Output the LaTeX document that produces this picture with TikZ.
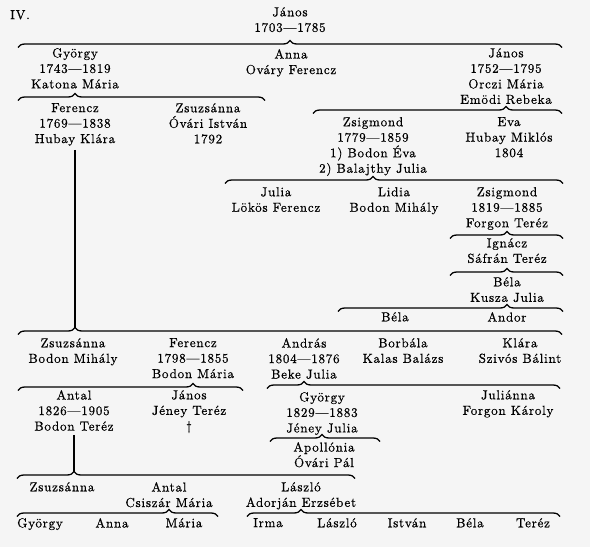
\documentclass[tikz,border=0pt]{standalone}
\usepackage{fontspec}
\setmainfont{lmroman10-regular}[Extension=.otf, LetterSpace=6, FakeBold=0.6]
\usetikzlibrary{decorations.pathreplacing}

\definecolor{paper}{RGB}{245,245,245}

\tikzset{
  person/.style={align=center, anchor=north, inner sep=0pt, yshift=5pt,
    font=\fontsize{13}{15.5}\selectfont},
  famline/.style={line width=1.3pt},
}

% brace below a parent: parent node, y, left x, right x
\newdimen\tipdim
\newcommand{\famBrace}[4]{%
  \pgfextractx{\tipdim}{\pgfpointanchor{#1}{center}}%
  \pgfmathsetmacro{\asp}{(\tipdim-#3)/(#4-#3)}%
  \draw[famline, decorate, decoration={brace, amplitude=7pt, aspect=\asp}]
    (#3,#2+3.5) -- (#4,#2+3.5);
}

\begin{document}
\begin{tikzpicture}[x=1pt, y=-1pt]

    \fill[paper] (0,0) rectangle (590,547);

    \node[person] (iv) at (20,15) {IV.};

    % 1. nemzedék
    \node[person] (janos0) at (290,12) {János\\1703—1785};
    \famBrace{janos0}{44}{18}{562}

    % 2. nemzedék
    \node[person] (gyorgy1) at (75,53) {György\\1743—1819\\Katona Mária};
    \node[person] (anna1) at (291,54) {Anna\\Ováry Ferencz};
    \node[person] (janos1) at (506,53) {János\\1752—1795\\Orczi Mária\\Emödi Rebeka};
    \famBrace{gyorgy1}{97}{18}{265}
    \famBrace{janos1}{110}{313}{562}

    % 3. nemzedék
    \node[person] (ferencz2) at (75,108) {Ferencz\\1769—1838\\Hubay Klára};
    \node[person] (zsuzsa2) at (208,108) {Zsuzsánna\\Óvári István\\1792};
    \node[person] (zsigmond2) at (373,122) {Zsigmond\\1779—1859\\1) Bodon Éva\\2) Balajthy Julia};
    \node[person] (eva2) at (509,122) {Eva\\Hubay Miklós\\1804};
    \famBrace{zsigmond2}{180}{225}{563}

    % Zsigmond ága
    \node[person] (julia3) at (276,192) {Julia\\Lökös Ferencz};
    \node[person] (lidia3) at (394,192) {Lidia\\Bodon Mihály};
    \node[person] (zsigmond3) at (507,192) {Zsigmond\\1819—1885\\Forgon Teréz};
    \famBrace{zsigmond3}{235}{450}{563}
    \node[person] (ignacz4) at (507,243) {Ignácz\\Sáfrán Teréz};
    \famBrace{ignacz4}{272}{450}{563}
    \node[person] (bela5) at (507,282) {Béla\\Kusza Julia};
    \famBrace{bela5}{308}{338}{563}
    \node[person] (bela6) at (395,317) {Béla};
    \node[person] (andor6) at (507,317) {Andor};

    % Ferencz ága
    \coordinate (ferencz2tip) at (75,327.5);
    \draw[famline] ([yshift=-4pt]ferencz2.south) -- (ferencz2.south |- ferencz2tip);
    \famBrace{ferencz2}{331}{18}{562}

    \node[person] (zsuzsa3) at (73,343) {Zsuzsánna\\Bodon Mihály};
    \node[person] (ferencz3) at (193,343) {Ferencz\\1798—1855\\Bodon Mária};
    \node[person] (andras3) at (304,343) {András\\1804—1876\\Beke Julia};
    \node[person] (borbala3) at (403,343) {Borbála\\Kalas Balázs};
    \node[person] (klara3) at (520,343) {Klára\\Szivós Bálint};
    \famBrace{ferencz3}{387}{18}{243}
    \famBrace{andras3}{385}{267}{560}

    \node[person] (antal4) at (74,395) {Antal\\1826—1905\\Bodon Teréz};
    \node[person] (janos4) at (189,395) {János\\Jéney Teréz\\†};
    \node[person] (gyorgy4) at (322,397) {György\\1829—1883\\Jéney Julia};
    \node[person] (julianna4) at (508,395) {Juliánna\\Forgon Károly};
    \famBrace{gyorgy4}{438}{270}{380}
    \node[person] (apollonia5) at (324,447) {Apollónia\\Óvári Pál};

    % Antal ága
    \coordinate (antal4tip) at (74,471.5);
    \draw[famline] ([yshift=-4pt]antal4.south) -- (antal4.south |- antal4tip);
    \famBrace{antal4}{475}{17}{355}

    \node[person] (zsuzsa5) at (62,487) {Zsuzsánna};
    \node[person] (antal5) at (169,487) {Antal\\Csiszár Mária};
    \node[person] (laszlo5) at (301,487) {László\\Adorján Erzsébet};
    \famBrace{antal5}{513}{17}{218}
    \famBrace{laszlo5}{513}{247}{560}

    \foreach \nev/\x [count=\i] in {György/40, Anna/112, Mária/184, Irma/268,
        László/337, István/407, Béla/470, Teréz/533} {
        \node[person] (unoka\i) at (\x,523) {\nev};
    }

\end{tikzpicture}
\end{document}
